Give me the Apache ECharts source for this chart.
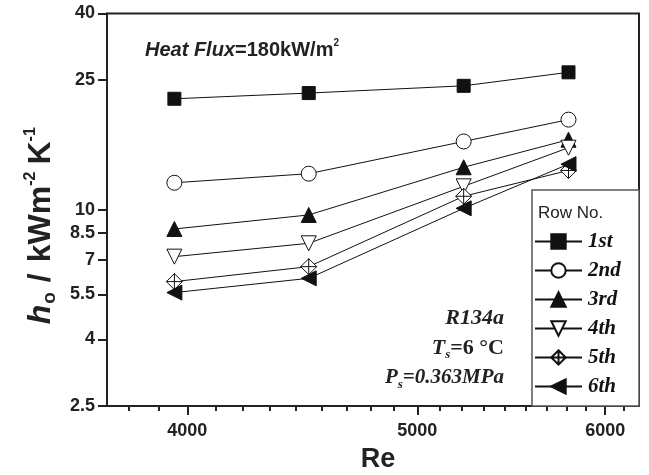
<!DOCTYPE html>
<html><head><meta charset="utf-8">
<script src="https://cdn.jsdelivr.net/npm/echarts@6/dist/echarts.min.js"></script>
<style>html,body{margin:0;padding:0;background:#fff}#c{width:649px;height:475px}</style>
</head><body><div id="c"></div>
<script>
const reynolds = [3950, 4500, 5230, 5790];
const row1 = [21.9, 22.8, 24.0, 26.4];
const row2 = [12.1, 12.9, 16.2, 18.9];
const row3 = [8.73, 9.64, 13.5, 16.4];
const row4 = [7.18, 7.89, 11.8, 15.5];
const row5 = [6.02, 6.69, 11.0, 13.2];
const row6 = [5.57, 6.16, 10.1, 13.8];
const seriesNames = ['1st', '2nd', '3rd', '4th', '5th', '6th'];
const xTickLabels = [4000, 5000, 6000];
const xMinorTicks = [3778, 3889, 4111, 4222, 4333, 4444, 4556, 4667, 4778, 4889, 5111, 5222, 5333, 5444, 5556, 5667, 5778, 5889, 6111];
const yTickLabels = [2.5, 4, 5.5, 7, 8.5, 10, 25, 40];

const rows = [row1, row2, row3, row4, row5, row6];
const crossDiamond = 'path://M0,-10L10,0L0,10L-10,0Z M0,-10L0,10 M-10,0L10,0';
const markerDefs = [
  {symbol: 'rect', size: 13, fill: '#111', rot: 0},
  {symbol: 'circle', size: 15, fill: '#fff', rot: 0},
  {symbol: 'triangle', size: 15, fill: '#111', rot: 0},
  {symbol: 'triangle', size: 15, fill: '#fff', rot: 180},
  {symbol: crossDiamond, size: 16, fill: '#fff', rot: 0},
  {symbol: 'triangle', size: 15, fill: '#111', rot: 90}
];

const series = rows.map((vals, i) => ({
  name: seriesNames[i],
  type: 'line',
  xAxisIndex: 0,
  yAxisIndex: 0,
  data: reynolds.map((x, j) => [x, vals[j]]),
  symbol: markerDefs[i].symbol,
  symbolSize: markerDefs[i].size,
  symbolRotate: markerDefs[i].rot,
  showAllSymbol: true,
  lineStyle: {color: '#111', width: 1},
  itemStyle: {color: markerDefs[i].fill, borderColor: '#111', borderWidth: 1, opacity: 1},
  emphasis: {disabled: true},
  animation: false,
  z: 2
}));

const chart = echarts.init(document.getElementById('c'), null, {renderer: 'canvas'});
const boldFont = 'Liberation Sans, Arial, sans-serif';
const serif = 'Liberation Serif, Times New Roman, serif';
const plain = v => String(v);
const nameBase = {fontFamily: boldFont, fontWeight: 'bold', fontSize: 32, color: '#222', lineHeight: 36, verticalAlign: 'middle'};
chart.setOption({
  animation: false,
  backgroundColor: '#fff',
  grid: {left: 107, right: 10, top: 13.5, bottom: 69, show: true, borderColor: '#222', borderWidth: 2, backgroundColor: 'transparent', containLabel: false, outerBoundsMode: 'none'},
  xAxis: [{
    type: 'log', logBase: 10, min: 3700, max: 6200,
    name: 'Re', nameLocation: 'middle', nameGap: 40,
    nameTextStyle: {fontFamily: boldFont, fontWeight: 'bold', fontSize: 27, color: '#222', padding: [0, 0, 0, 10]},
    axisLine: {show: true, lineStyle: {color: '#222', width: 2}},
    axisTick: {show: true, inside: false, length: 9, lineStyle: {color: '#222', width: 2}, customValues: xTickLabels},
    axisLabel: {show: true, margin: 16, fontFamily: boldFont, fontWeight: 'bold', fontSize: 18, color: '#222', customValues: xTickLabels, formatter: plain},
    splitLine: {show: false}, minorTick: {show: false}
  }, {
    type: 'log', logBase: 10, min: 3700, max: 6200, position: 'bottom', gridIndex: 0,
    axisLine: {show: false},
    axisTick: {show: true, inside: false, length: 5, lineStyle: {color: '#222', width: 2}, customValues: xMinorTicks},
    axisLabel: {show: false},
    splitLine: {show: false}
  }],
  yAxis: [{
    type: 'log', logBase: 10, min: 2.5, max: 40,
    name: '{h|h}{o|o}{sl|/}{t|kWm}{s|-2}{t2|K}{s|-1}',
    nameLocation: 'middle', nameRotate: 90, nameGap: 45,
    nameTextStyle: {
      fontFamily: boldFont, fontWeight: 'bold', fontSize: 32, color: '#222', padding: [0, 30, 0, 0],
      rich: {
        h: Object.assign({}, nameBase, {fontStyle: 'italic'}),
        o: {fontFamily: boldFont, fontWeight: 'bold', fontSize: 19, color: '#222', lineHeight: 36, verticalAlign: 'bottom', padding: [0, 10, 0, 1]},
        sl: Object.assign({}, nameBase, {padding: [0, 11, 0, 0]}),
        t: Object.assign({}, nameBase),
        t2: Object.assign({}, nameBase, {padding: [0, 0, 0, 5]}),
        s: {fontFamily: boldFont, fontWeight: 'bold', fontSize: 16, color: '#222', lineHeight: 36, verticalAlign: 'top', padding: [0, 2, 0, 0]}
      }
    },
    axisLine: {show: true, lineStyle: {color: '#222', width: 2}},
    axisTick: {show: true, inside: false, length: 9, lineStyle: {color: '#222', width: 2}, customValues: yTickLabels},
    axisLabel: {show: true, margin: 12, fontFamily: boldFont, fontWeight: 'bold', fontSize: 18, color: '#222', customValues: yTickLabels, formatter: plain},
    splitLine: {show: false}, minorTick: {show: false}
  }],
  legend: {
    orient: 'vertical', left: 534, top: 231, padding: 0,
    itemWidth: 47, itemHeight: 18, itemGap: 8,
    data: seriesNames,
    textStyle: {fontFamily: serif, fontWeight: 'bold', fontStyle: 'italic', fontSize: 21, color: '#111', padding: [0, 0, 0, 1]},
    selectedMode: false, z: 6
  },
  graphic: [
    {type: 'rect', z: 4, shape: {x: 532, y: 190, width: 107, height: 216}, style: {fill: '#fff', stroke: '#555', lineWidth: 1.5}},
    {type: 'text', z: 6, x: 538, y: 213, style: {text: 'Row No.', fontFamily: boldFont, fontSize: 17, fill: '#222', verticalAlign: 'middle'}},
    {type: 'text', z: 6, x: 145, y: 50, style: {
      text: '{a|Heat Flux}{b|=180kW/m}{c|2}', verticalAlign: 'middle',
      rich: {
        a: {fontFamily: boldFont, fontWeight: 'bold', fontStyle: 'italic', fontSize: 20, fill: '#222', lineHeight: 24, verticalAlign: 'middle'},
        b: {fontFamily: boldFont, fontWeight: 'bold', fontSize: 20, fill: '#222', lineHeight: 24, verticalAlign: 'middle'},
        c: {fontFamily: boldFont, fontWeight: 'bold', fontSize: 10, fill: '#222', lineHeight: 24, verticalAlign: 'top'}
      }
    }},
    {type: 'text', z: 6, x: 504, y: 318, style: {
      text: 'R134a', align: 'right', verticalAlign: 'middle',
      fontFamily: serif, fontWeight: 'bold', fontStyle: 'italic', fontSize: 22, fill: '#222'
    }},
    {type: 'text', z: 6, x: 504, y: 348, style: {
      text: '{a|T}{s|s}{b|=6 °C}', align: 'right', verticalAlign: 'middle',
      rich: {
        a: {fontFamily: serif, fontWeight: 'bold', fontStyle: 'italic', fontSize: 22, fill: '#222', lineHeight: 26, verticalAlign: 'middle'},
        s: {fontFamily: serif, fontWeight: 'bold', fontStyle: 'italic', fontSize: 13, fill: '#222', lineHeight: 26, verticalAlign: 'bottom'},
        b: {fontFamily: serif, fontWeight: 'bold', fontSize: 22, fill: '#222', lineHeight: 26, verticalAlign: 'middle'}
      }
    }},
    {type: 'text', z: 6, x: 504, y: 378, style: {
      text: '{a|P}{s|s}{a|=0.363MPa}', align: 'right', verticalAlign: 'middle',
      rich: {
        a: {fontFamily: serif, fontWeight: 'bold', fontStyle: 'italic', fontSize: 21, fill: '#222', lineHeight: 26, verticalAlign: 'middle'},
        s: {fontFamily: serif, fontWeight: 'bold', fontStyle: 'italic', fontSize: 13, fill: '#222', lineHeight: 26, verticalAlign: 'bottom'}
      }
    }}
  ],
  series: series
});
</script>
</body></html>
